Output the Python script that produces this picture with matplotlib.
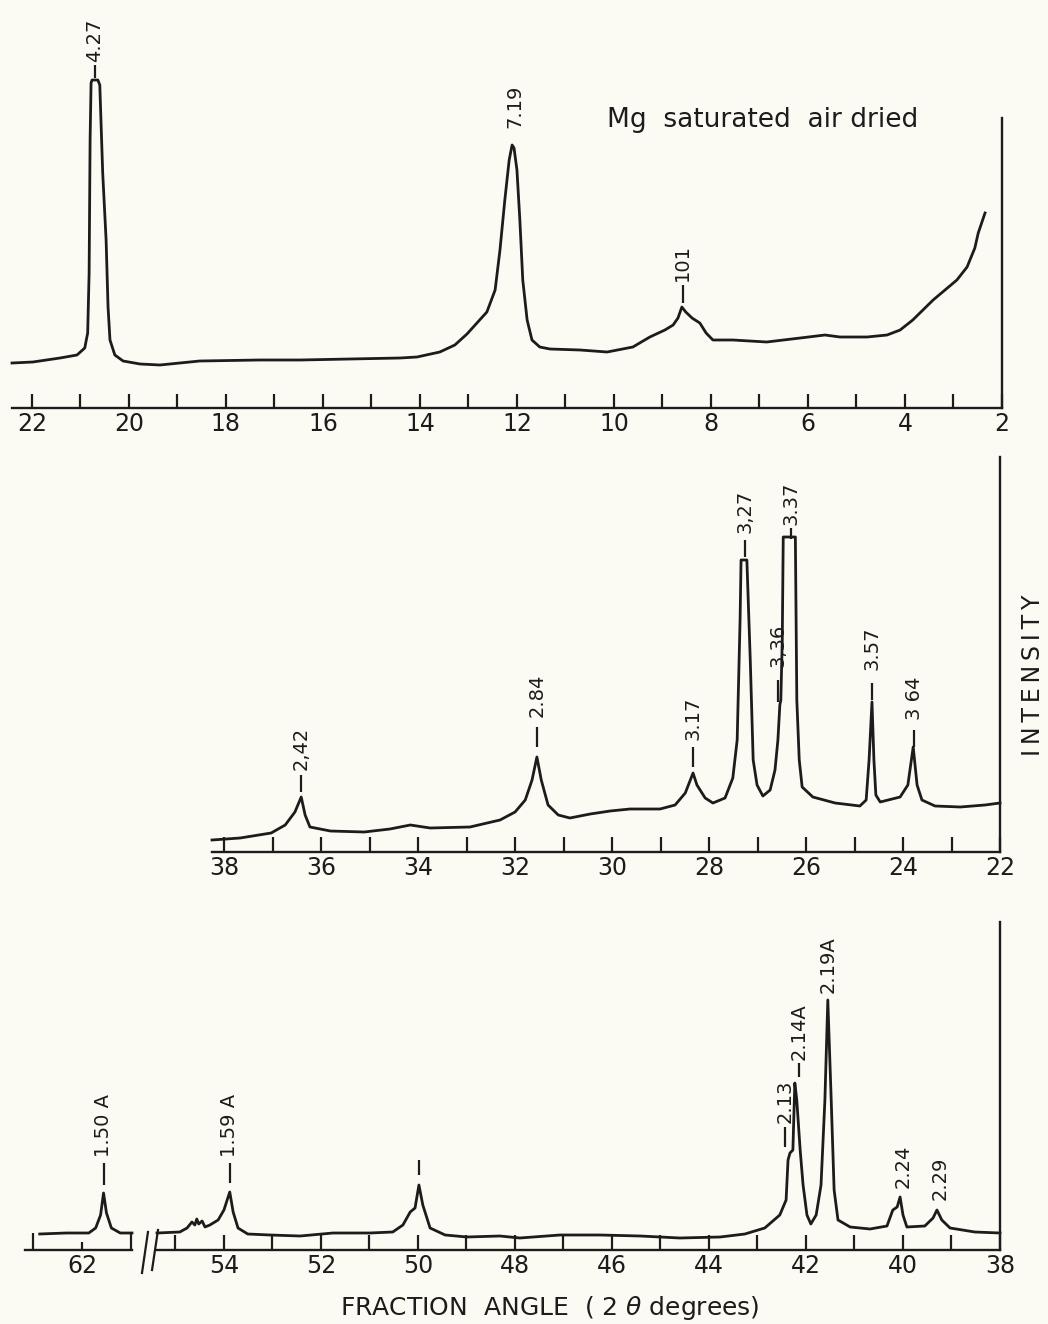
import matplotlib
matplotlib.use('Agg')
import matplotlib.pyplot as plt
from matplotlib.lines import Line2D

plt.rcParams['font.family'] = ['DejaVu Sans']

INK = '#1c1c1c'
BG = '#fcfbf3'

# ---------------- data: top panel (Mg saturated, air dried) ----------------
top_x = [22.41, 21.98, 21.42, 21.07, 20.91, 20.85, 20.82, 20.80, 20.78, 20.76,
         20.64, 20.60, 20.54, 20.47, 20.43, 20.39, 20.29, 20.12, 19.77, 19.36,
         18.95, 18.54, 17.30, 16.47, 15.44, 14.41, 14.06, 13.59, 13.28, 13.03,
         12.62, 12.45, 12.35, 12.25, 12.16, 12.10, 12.06, 12.00, 11.94, 11.88,
         11.79, 11.69, 11.53, 11.32, 10.70, 10.14, 9.61, 9.26, 8.95, 8.78,
         8.68, 8.60, 8.52, 8.39, 8.23, 8.10, 7.96, 7.55, 6.85, 6.16,
         5.65, 5.34, 4.78, 4.37, 4.10, 3.84, 3.42, 2.93, 2.72, 2.56, 2.49, 2.35]
top_y = [45, 46, 50, 53, 60, 75, 135, 268, 325, 328,
         328, 323, 235, 168, 101, 68, 53, 47, 44, 43,
         45, 47, 48, 48, 49, 50, 51, 56, 63, 74,
         96, 118, 158, 208, 248, 263, 260, 238, 188, 128,
         88, 68, 61, 59, 58, 56, 61, 71, 78, 83,
         90, 101, 96, 90, 85, 75, 68, 68, 66, 70,
         73, 71, 71, 73, 78, 88, 108, 128, 141, 160, 175, 195]
top_major = [22, 20, 18, 16, 14, 12, 10, 8, 6, 4, 2]
top_minor = [21, 19, 17, 15, 13, 11, 9, 7, 5, 3]
top_peak_x = [20.70, 12.04, 8.58]
top_peak_txt = ['4.27', '7.19', '101']

# ---------------- data: middle panel ----------------
mid_x = [38.25, 37.67, 37.03, 36.74, 36.54, 36.41, 36.33, 36.23, 35.81, 35.11,
         34.58, 34.16, 33.75, 32.93, 32.31, 32.00, 31.79, 31.65, 31.55, 31.46,
         31.32, 31.11, 30.87, 30.45, 30.04, 29.63, 29.01, 28.70, 28.49, 28.33,
         28.25, 28.08, 27.92, 27.67, 27.51, 27.42, 27.36, 27.34, 27.22, 27.15,
         27.09, 27.01, 26.89, 26.74, 26.64, 26.58, 26.54, 26.52, 26.49, 26.47,
         26.22, 26.19, 26.14, 26.08, 25.86, 25.40, 24.89, 24.76, 24.70, 24.64,
         24.60, 24.56, 24.47, 24.06, 23.90, 23.79, 23.71, 23.61, 23.34, 22.82,
         22.31, 22.00]
mid_y = [12, 14, 19, 27, 40, 55, 37, 25, 21, 20,
         23, 27, 24, 25, 32, 40, 52, 72, 95, 72,
         47, 37, 34, 38, 41, 43, 43, 47, 59, 79,
         67, 54, 49, 54, 74, 112, 232, 292, 292, 192,
         92, 67, 56, 62, 82, 112, 147, 152, 212, 315,
         315, 152, 92, 65, 55, 49, 46, 52, 92, 150,
         92, 57, 50, 55, 67, 105, 67, 52, 46, 45,
         47, 49]
mid_major = [38, 36, 34, 32, 30, 28, 26, 24, 22]
mid_minor = [37, 35, 33, 31, 29, 27, 25, 23]
mid_peak_x = [36.41, 31.55, 28.33, 27.26, 26.58, 26.30, 24.64, 23.77]
mid_peak_txt = ['2,42', '2.84', '3.17', '3,27', '3,36', '3.37', '3.57', '3 64']

# ---------------- data: bottom panel (broken axis) ----------------
low_left_x = [62.86, 62.32, 61.86, 61.72, 61.62, 61.56, 61.50, 61.40, 61.22, 60.98]
low_left_y = [16, 17, 17, 22, 35, 57, 37, 22, 17, 17]
low_x = [55.38, 54.91, 54.76, 54.66, 54.60, 54.56, 54.52, 54.45, 54.39, 54.29,
         54.12, 54.00, 53.88, 53.81, 53.71, 53.51, 53.05, 52.43, 51.75, 50.99,
         50.52, 50.31, 50.16, 50.06, 49.98, 49.90, 49.75, 49.44, 48.99, 48.31,
         47.90, 47.07, 46.25, 45.42, 44.60, 43.77, 43.26, 42.85, 42.54, 42.41,
         42.37, 42.33, 42.27, 42.23, 42.19, 42.12, 42.06, 41.98, 41.90, 41.79,
         41.69, 41.61, 41.55, 41.48, 41.42, 41.34, 41.09, 40.68, 40.33, 40.21,
         40.12, 40.06, 40.00, 39.92, 39.55, 39.38, 39.30, 39.20, 39.03, 38.52,
         38.00]
low_y = [17, 18, 22, 28, 25, 31, 26, 29, 23, 25,
         30, 40, 58, 38, 22, 16, 15, 14, 17, 17,
         18, 25, 38, 42, 65, 45, 22, 15, 13, 14,
         12, 15, 15, 14, 12, 13, 16, 22, 35, 50,
         90, 97, 100, 167, 150, 100, 65, 35, 26, 35,
         65, 150, 250, 150, 60, 30, 23, 21, 24, 40,
         43, 53, 35, 23, 24, 32, 40, 30, 22, 18,
         17]
low_left_major = [62]
low_left_minor = [63, 61]
low_major = [54, 52, 50, 48, 46, 44, 42, 40, 38]
low_minor = [55, 53, 51, 49, 47, 45, 43, 41, 39]
low_left_peak_x = [61.56]
low_left_peak_txt = ['1.50 A']
low_peak_x = [53.88, 49.98, 42.43, 42.14, 41.55, 40.00, 39.24]
low_peak_txt = ['1.59 A', '', '2.13', '2.14A', '2.19A', '2.24', '2.29']

# ---------------- layout ----------------
W, H = 1048, 1324
fig = plt.figure(figsize=(W / 100, H / 100), dpi=100, facecolor=BG)


def box(l, r, b, t):
    return [l / W, 1 - b / H, (r - l) / W, (b - t) / H]


def style(ax, xlim, ylim, major, minor, right=True, maj_len=10, min_len=10):
    ax.set_facecolor('none')
    ax.set_xlim(*xlim)
    ax.set_ylim(*ylim)
    for s in ['left', 'top']:
        ax.spines[s].set_visible(False)
    ax.spines['right'].set_visible(right)
    for s in ['bottom', 'right']:
        ax.spines[s].set_linewidth(1.7)
        ax.spines[s].set_color(INK)
    ax.set_xticks(major, labels=[str(v) for v in major])
    ax.set_xticks(minor, minor=True)
    ax.set_yticks([])
    ax.tick_params(axis='x', which='major', direction='in', length=maj_len,
                   width=1.6, color=INK, labelsize=17, pad=3, labelcolor=INK)
    ax.tick_params(axis='x', which='minor', direction='in', length=min_len,
                   width=1.6, color=INK)


def curve(ax, x, y):
    ax.plot(x, y, color=INK, lw=2.0, clip_on=False, solid_joinstyle='round')


def labels(ax, xs, texts, text_y, dashes):
    for x, t, ty, d in zip(xs, texts, text_y, dashes):
        if d is not None:
            ax.plot([x, x], d, color=INK, lw=1.6, clip_on=False,
                    solid_capstyle='butt')
        if t:
            ax.text(x, ty, t, rotation=90, ha='center', va='bottom',
                    fontsize=14, color=INK, clip_on=False)


# top panel
ax1 = fig.add_axes(box(12, 1002, 408, 118))
style(ax1, (22.41, 2.0), (0, 290), top_major, top_minor)
curve(ax1, top_x, top_y)
labels(ax1, top_peak_x, top_peak_txt, [346, 280, 127],
       [(330, 343), None, (105, 123)])
ax1.text(10.14, 288, 'Mg  saturated  air dried', ha='left', va='center',
         fontsize=19, color=INK, clip_on=False)

# middle panel
ax2 = fig.add_axes(box(212, 1000, 852, 457))
style(ax2, (38.25, 22.0), (0, 395), mid_major, mid_minor, min_len=11, maj_len=11)
curve(ax2, mid_x, mid_y)
labels(ax2, mid_peak_x, mid_peak_txt,
       [82, 135, 112, 319, 185, 327, 182, 132],
       [(60, 77), (105, 125), (85, 105), (295, 312), (150, 172),
        (313, 324), (152, 169), (105, 122)])

# bottom panel: left segment (beyond the break) and main segment
ax3l = fig.add_axes(box(25, 132, 1250, 922))
style(ax3l, (63.16, 60.98), (0, 328), low_left_major, low_left_minor,
      right=False, maj_len=6, min_len=12)
curve(ax3l, low_left_x, low_left_y)
labels(ax3l, low_left_peak_x, low_left_peak_txt, [93], [(65, 87)])

ax3 = fig.add_axes(box(157, 1000, 1250, 922))
style(ax3, (55.38, 38.0), (0, 328), low_major, low_minor, maj_len=11, min_len=11)
curve(ax3, low_x, low_y)
labels(ax3, low_peak_x, low_peak_txt,
       [93, None, 127, 190, 257, 62, 50],
       [(67, 87), (75, 90), (103, 123), (173, 187), None, None, None])

# break marks "//"
for x0, y0, x1, y1 in [(-0.0178, -0.070, -0.0107, 0.055),
                       (-0.0059, -0.061, 0.0012, 0.061)]:
    ax3.add_line(Line2D([x0, x1], [y0, y1], transform=ax3.transAxes,
                        color=INK, lw=1.6, clip_on=False))

# axis titles
fig.text(1033 / W, 1 - 675 / H,
         'I\u2009N\u2009T\u2009E\u2009N\u2009S\u2009I\u2009T\u2009Y',
         rotation=90, ha='center', va='center', fontsize=17, color=INK)
fig.text(550 / W, 1 - 1308 / H, 'FRACTION  ANGLE  ( 2 $\\theta$ degrees)',
         ha='center', va='center', fontsize=18, color=INK)

fig.savefig('out.png', dpi=100, facecolor=BG)
